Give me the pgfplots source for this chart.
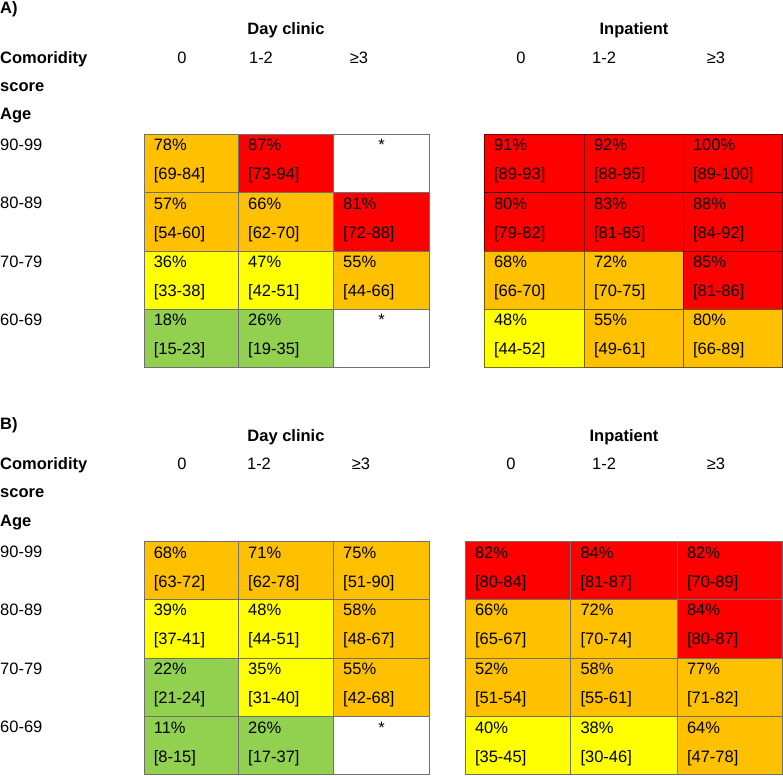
\documentclass[border=0pt]{standalone}
\usepackage{pgfplots}
\pgfplotsset{compat=1.18}
\usepackage{pgfplotstable}
\usepackage{fontspec}
\setmainfont{Liberation Sans}
\definecolor{cR}{RGB}{255,0,0}
\definecolor{cO}{RGB}{255,192,0}
\definecolor{cY}{RGB}{255,255,0}
\definecolor{cG}{RGB}{146,208,80}
\definecolor{cW}{RGB}{255,255,255}
\definecolor{gridc}{RGB}{112,112,112}
\newcommand\fs{\fontsize{16.5}{19.8}\selectfont}

% cell texts: tx, ty (baseline of percentage), pct, confidence interval
\pgfplotstableread{
tx ty pct ci
153.8 150.8 78 69-84
248.2 150.8 87 73-94
153.8 209.2 57 54-60
248.2 209.2 66 62-70
343.2 209.2 81 72-88
153.8 267.5 36 33-38
248.2 267.5 47 42-51
343.2 267.5 55 44-66
153.8 325.8 18 15-23
248.2 325.8 26 19-35
}\dayA
\pgfplotstableread{
tx ty pct ci
494 150.8 91 89-93
594 150.8 92 88-95
693 150.8 100 89-100
494 209.2 80 79-82
594 209.2 83 81-85
693 209.2 88 84-92
494 267.5 68 66-70
594 267.5 72 70-75
693 267.5 85 81-86
494 325.8 48 44-52
594 325.8 55 49-61
693 325.8 80 66-89
}\inpA
\pgfplotstableread{
tx ty pct ci
153.8 558 68 63-72
248.2 558 71 62-78
343.2 558 75 51-90
153.8 615.8 39 37-41
248.2 615.8 48 44-51
343.2 615.8 58 48-67
153.8 674.8 22 21-24
248.2 674.8 35 31-40
343.2 674.8 55 42-68
153.8 733.2 11 8-15
248.2 733.2 26 17-37
}\dayB
\pgfplotstableread{
tx ty pct ci
475 558 82 80-84
580.5 558 84 81-87
687 558 82 70-89
475 615.8 66 65-67
580.5 615.8 72 70-74
687 615.8 84 80-87
475 674.8 52 51-54
580.5 674.8 58 55-61
687 674.8 77 71-82
475 733.2 40 35-45
580.5 733.2 38 30-46
687 733.2 64 47-78
}\inpB
\pgfplotstableread{
tx ty lab
381.5 150.8 *
381.5 325.8 *
381.5 733.2 *
}\stars

\newcommand\cell[5]{\addplot[draw=gridc, fill=#5, line width=0.9pt] coordinates {(#1,#2) (#3,#2) (#3,#4) (#1,#4)} -- cycle;}
\newcommand\dcell[5]{\addplot[draw=black, draw opacity=0.55, fill=#5, line width=0.9pt] coordinates {(#1,#2) (#3,#2) (#3,#4) (#1,#4)} -- cycle;}

\pgfplotsset{
  txt/.style={only marks, mark=none, point meta=explicit symbolic,
    every node near coord/.append style={anchor=base west, inner sep=0pt, outer sep=0pt, font=\fs, text=black}},
}

\begin{document}
\fs
\begin{tikzpicture}
\begin{axis}[name=ax, x=1pt, y=1pt, xmin=0, xmax=783, ymin=0, ymax=775,
  y dir=reverse, hide axis, clip=false, scale only axis]

% ---- Panel A, Day clinic
\cell{144.3}{134.3}{238.7}{192.7}{cO}
\cell{238.7}{134.3}{333.7}{192.7}{cR}
\cell{333.7}{134.3}{429}{192.7}{cW}
\cell{144.3}{192.7}{238.7}{251}{cO}
\cell{238.7}{192.7}{333.7}{251}{cO}
\cell{333.7}{192.7}{429}{251}{cR}
\cell{144.3}{251}{238.7}{309.3}{cY}
\cell{238.7}{251}{333.7}{309.3}{cY}
\cell{333.7}{251}{429}{309.3}{cO}
\cell{144.3}{309.3}{238.7}{367.5}{cG}
\cell{238.7}{309.3}{333.7}{367.5}{cG}
\cell{333.7}{309.3}{429}{367.5}{cW}
% ---- Panel A, Inpatient
\dcell{484}{134.3}{584}{192.7}{cR}
\dcell{584}{134.3}{683}{192.7}{cR}
\dcell{683}{134.3}{782.5}{192.7}{cR}
\dcell{484}{192.7}{584}{251}{cR}
\dcell{584}{192.7}{683}{251}{cR}
\dcell{683}{192.7}{782.5}{251}{cR}
\dcell{484}{251}{584}{309.3}{cO}
\dcell{584}{251}{683}{309.3}{cO}
\dcell{683}{251}{782.5}{309.3}{cR}
\dcell{484}{309.3}{584}{367.5}{cY}
\dcell{584}{309.3}{683}{367.5}{cO}
\dcell{683}{309.3}{782.5}{367.5}{cO}
% ---- Panel B, Day clinic
\cell{144.3}{541.5}{238.7}{599.3}{cO}
\cell{238.7}{541.5}{333.7}{599.3}{cO}
\cell{333.7}{541.5}{429}{599.3}{cO}
\cell{144.3}{599.3}{238.7}{658.3}{cY}
\cell{238.7}{599.3}{333.7}{658.3}{cY}
\cell{333.7}{599.3}{429}{658.3}{cO}
\cell{144.3}{658.3}{238.7}{716.7}{cG}
\cell{238.7}{658.3}{333.7}{716.7}{cY}
\cell{333.7}{658.3}{429}{716.7}{cO}
\cell{144.3}{716.7}{238.7}{774.5}{cG}
\cell{238.7}{716.7}{333.7}{774.5}{cG}
\cell{333.7}{716.7}{429}{774.5}{cW}
% ---- Panel B, Inpatient
\cell{465}{541.5}{570}{599.3}{cR}
\cell{570}{541.5}{677}{599.3}{cR}
\cell{677}{541.5}{782.5}{599.3}{cR}
\cell{465}{599.3}{570}{658.3}{cO}
\cell{570}{599.3}{677}{658.3}{cO}
\cell{677}{599.3}{782.5}{658.3}{cR}
\cell{465}{658.3}{570}{716.7}{cO}
\cell{570}{658.3}{677}{716.7}{cO}
\cell{677}{658.3}{782.5}{716.7}{cO}
\cell{465}{716.7}{570}{774.5}{cY}
\cell{570}{716.7}{677}{774.5}{cY}
\cell{677}{716.7}{782.5}{774.5}{cO}

% ---- cell texts
\addplot[txt, nodes near coords={\pgfplotspointmeta\%}] table[x=tx, y=ty, meta=pct] {\dayA};
\addplot[txt, nodes near coords={[\pgfplotspointmeta]}] table[x=tx, y expr=\thisrow{ty}+29, meta=ci] {\dayA};
\addplot[txt, nodes near coords={\pgfplotspointmeta\%}] table[x=tx, y=ty, meta=pct] {\inpA};
\addplot[txt, nodes near coords={[\pgfplotspointmeta]}] table[x=tx, y expr=\thisrow{ty}+29, meta=ci] {\inpA};
\addplot[txt, nodes near coords={\pgfplotspointmeta\%}] table[x=tx, y=ty, meta=pct] {\dayB};
\addplot[txt, nodes near coords={[\pgfplotspointmeta]}] table[x=tx, y expr=\thisrow{ty}+29, meta=ci] {\dayB};
\addplot[txt, nodes near coords={\pgfplotspointmeta\%}] table[x=tx, y=ty, meta=pct] {\inpB};
\addplot[txt, nodes near coords={[\pgfplotspointmeta]}] table[x=tx, y expr=\thisrow{ty}+29, meta=ci] {\inpB};
\addplot[txt, nodes near coords, every node near coord/.append style={anchor=base}] table[x=tx, y=ty, meta=lab] {\stars};

% ---- headers, panel A
\node[anchor=base west, inner sep=0pt] at (axis cs:0,13.3) {\bfseries A)};
\node[anchor=base, inner sep=0pt] at (axis cs:286,35) {\bfseries Day clinic};
\node[anchor=base, inner sep=0pt] at (axis cs:634,35) {\bfseries Inpatient};
\node[anchor=base west, inner sep=0pt] at (axis cs:0,63.3) {\bfseries Comoridity};
\node[anchor=base west, inner sep=0pt] at (axis cs:0,91.7) {\bfseries score};
\node[anchor=base west, inner sep=0pt] at (axis cs:0,120) {\bfseries Age};
\node[anchor=base, inner sep=0pt] at (axis cs:182,63.3) {0};
\node[anchor=base, inner sep=0pt] at (axis cs:261,63.3) {1-2};
\node[anchor=base, inner sep=0pt] at (axis cs:359,63.3) {≥3};
\node[anchor=base, inner sep=0pt] at (axis cs:521,63.3) {0};
\node[anchor=base, inner sep=0pt] at (axis cs:604,63.3) {1-2};
\node[anchor=base, inner sep=0pt] at (axis cs:716,63.3) {≥3};
\node[anchor=base west, inner sep=0pt] at (axis cs:0,150.5) {90-99};
\node[anchor=base west, inner sep=0pt] at (axis cs:0,208.8) {80-89};
\node[anchor=base west, inner sep=0pt] at (axis cs:0,267.2) {70-79};
\node[anchor=base west, inner sep=0pt] at (axis cs:0,325.4) {60-69};
% ---- headers, panel B
\node[anchor=base west, inner sep=0pt] at (axis cs:0,429) {\bfseries B)};
\node[anchor=base, inner sep=0pt] at (axis cs:286,441) {\bfseries Day clinic};
\node[anchor=base, inner sep=0pt] at (axis cs:624,441) {\bfseries Inpatient};
\node[anchor=base west, inner sep=0pt] at (axis cs:0,469.3) {\bfseries Comoridity};
\node[anchor=base west, inner sep=0pt] at (axis cs:0,497.5) {\bfseries score};
\node[anchor=base west, inner sep=0pt] at (axis cs:0,526) {\bfseries Age};
\node[anchor=base, inner sep=0pt] at (axis cs:182,469.3) {0};
\node[anchor=base, inner sep=0pt] at (axis cs:259,469.3) {1-2};
\node[anchor=base, inner sep=0pt] at (axis cs:361,469.3) {≥3};
\node[anchor=base, inner sep=0pt] at (axis cs:511,469.3) {0};
\node[anchor=base, inner sep=0pt] at (axis cs:604,469.3) {1-2};
\node[anchor=base, inner sep=0pt] at (axis cs:716,469.3) {≥3};
\node[anchor=base west, inner sep=0pt] at (axis cs:0,557.5) {90-99};
\node[anchor=base west, inner sep=0pt] at (axis cs:0,615.5) {80-89};
\node[anchor=base west, inner sep=0pt] at (axis cs:0,674.5) {70-79};
\node[anchor=base west, inner sep=0pt] at (axis cs:0,732.5) {60-69};
\end{axis}
\pgfresetboundingbox
\useasboundingbox (ax.south west) rectangle (ax.north east);
\end{tikzpicture}
\end{document}
